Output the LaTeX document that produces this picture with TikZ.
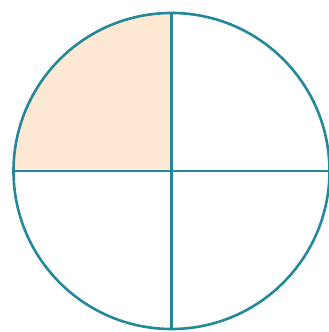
\documentclass[tikz,border=0pt]{standalone}
\usepackage{xcolor}
\usepackage{tikz}
\usetikzlibrary{calc}
\definecolor{rimteal}{HTML}{23899A}
\definecolor{softpeach}{HTML}{FCE8D3}

\begin{document}
\begin{tikzpicture}[
    x=1pt, y=1pt,
    rim/.style={draw=rimteal, line width=2.6pt},
    part/.style={fill=softpeach}
]
\useasboundingbox (0,0) rectangle (329,332);
\coordinate (c) at (171.5,161);
\fill[part] (c) -- ++(-158,0) arc[start angle=180, end angle=90, radius=158] -- cycle;
\draw[rim] (c) circle[radius=158];
\draw[rim] ($(c)+(-158,0)$) -- ($(c)+(158,0)$);
\draw[rim] ($(c)+(0,158)$) -- ($(c)+(0,-158)$);
\end{tikzpicture}
\end{document}
